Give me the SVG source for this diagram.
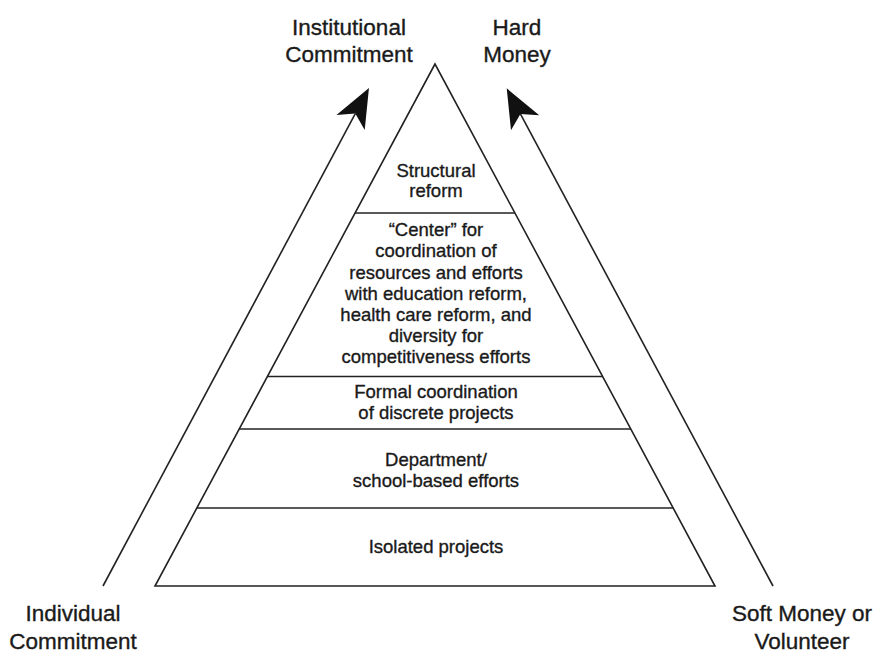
<svg xmlns="http://www.w3.org/2000/svg" width="875" height="654" viewBox="0 0 875 654">
<style>
.ln{stroke:#222;stroke-width:1.6;fill:none}
.t{font-family:"Liberation Sans",Arial,sans-serif;font-size:18.5px;fill:#1a1a1a;stroke:#1a1a1a;stroke-width:0.35;text-anchor:middle}
.o{font-family:"Liberation Sans",Arial,sans-serif;font-size:22.5px;fill:#1a1a1a;stroke:#1a1a1a;stroke-width:0.35;text-anchor:middle}
</style>
<defs>
<marker id="ah" markerUnits="userSpaceOnUse" viewBox="-11 -17 42 34" markerWidth="42" markerHeight="34" refX="0" refY="0" orient="auto">
<path d="M29,0 L-10,-16 L0,0 L-10,16 Z" fill="#111"/>
</marker>
</defs>
<rect width="875" height="654" fill="#fff"/>
<g id="connectors">
<line class="ln" x1="103" y1="586" x2="355.3" y2="113.6" marker-end="url(#ah)"/>
<line class="ln" x1="773" y1="586" x2="520.4" y2="113.9" marker-end="url(#ah)"/>
</g>
<g id="pyramid">
<polygon class="ln" points="435,64 155,586 715,586"/>
<line class="ln" x1="355" y1="213" x2="515" y2="213"/>
<line class="ln" x1="267" y1="376.5" x2="603" y2="376.5"/>
<line class="ln" x1="239" y1="429" x2="631" y2="429"/>
<line class="ln" x1="197" y1="508" x2="673" y2="508"/>
</g>
<g id="structural">
<text class="t" x="436" y="177">Structural</text>
<text class="t" x="436" y="197">reform</text>
</g>
<g id="center">
<text class="t" x="436" y="236">“Center” for</text>
<text class="t" x="436" y="257">coordination of</text>
<text class="t" x="436" y="278.5">resources and efforts</text>
<text class="t" x="436" y="299.5">with education reform,</text>
<text class="t" x="436" y="321">health care reform, and</text>
<text class="t" x="436" y="342">diversity for</text>
<text class="t" x="436" y="363">competitiveness efforts</text>
</g>
<g id="formal">
<text class="t" x="436" y="398">Formal coordination</text>
<text class="t" x="436" y="418.5">of discrete projects</text>
</g>
<g id="department">
<text class="t" x="436" y="466">Department/</text>
<text class="t" x="436" y="487">school-based efforts</text>
</g>
<g id="isolated">
<text class="t" x="436" y="553">Isolated projects</text>
</g>
<g id="institutional">
<text class="o" x="349" y="35">Institutional</text>
<text class="o" x="349" y="62">Commitment</text>
</g>
<g id="hard">
<text class="o" x="517" y="35">Hard</text>
<text class="o" x="517" y="62">Money</text>
</g>
<g id="individual">
<text class="o" x="73" y="621">Individual</text>
<text class="o" x="73" y="649">Commitment</text>
</g>
<g id="soft">
<text class="o" x="802" y="621">Soft Money or</text>
<text class="o" x="802" y="649">Volunteer</text>
</g>
</svg>
